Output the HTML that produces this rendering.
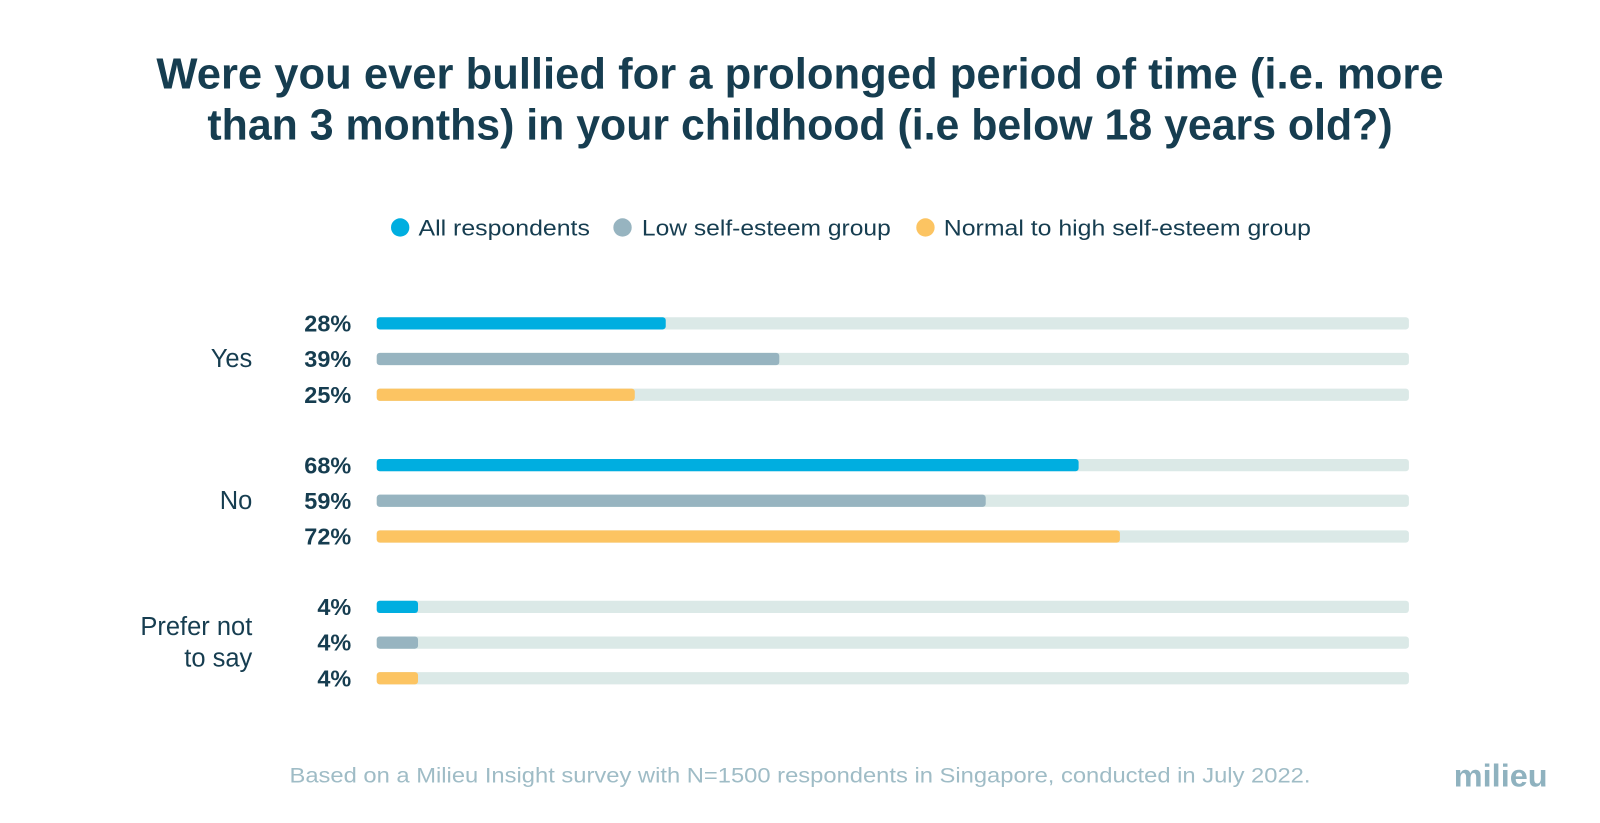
<!DOCTYPE html>
<html><head><meta charset="utf-8">
<style>
body{margin:0;background:#fff;width:1600px;height:818px;overflow:hidden;font-family:"Liberation Sans",sans-serif;}
svg text{font-family:"Liberation Sans",sans-serif;}
</style></head>
<body>
<svg id="chart" width="1600" height="818" viewBox="0 0 1568 802" xmlns="http://www.w3.org/2000/svg">
<text x="784" y="87" text-anchor="middle" font-size="43" font-weight="bold" fill="#163d50" textLength="1262" lengthAdjust="spacingAndGlyphs">Were you ever bullied for a prolonged period of time (i.e. more</text>
<text x="784" y="137" text-anchor="middle" font-size="43" font-weight="bold" fill="#163d50" textLength="1162" lengthAdjust="spacingAndGlyphs">than 3 months) in your childhood (i.e below 18 years old?)</text>
<g>
<g><circle cx="392" cy="223" r="9" fill="#00aee0"/><text x="410" y="231" font-size="22" fill="#163d50" textLength="168" lengthAdjust="spacingAndGlyphs">All respondents</text></g>
<g><circle cx="610" cy="223" r="9" fill="#97b4c0"/><text x="629" y="231" font-size="22" fill="#163d50" textLength="244" lengthAdjust="spacingAndGlyphs">Low self-esteem group</text></g>
<g><circle cx="907" cy="223" r="9" fill="#fcc462"/><text x="925" y="231" font-size="22" fill="#163d50" textLength="360" lengthAdjust="spacingAndGlyphs">Normal to high self-esteem group</text></g>
</g>
<g id="bars"></g>
<text x="784" y="767" text-anchor="middle" font-size="21" fill="#9fbcc6" textLength="1001" lengthAdjust="spacingAndGlyphs">Based on a Milieu Insight survey with N=1500 respondents in Singapore, conducted in July 2022.</text>
<text x="1471" y="771" text-anchor="middle" font-size="31" font-weight="bold" fill="#8fb2bf" textLength="92" lengthAdjust="spacingAndGlyphs">milieu</text>
</svg>
<script>
const categories = ["Yes", "No", "Prefer not to say"];
const allRespondents = [28, 68, 4];
const lowSelfEsteem = [39, 59, 4];
const normalHighSelfEsteem = [25, 72, 4];
const seriesNames = ["all", "low", "normal"];

const colors = ["#00aee0", "#97b4c0", "#fcc462"];
const series = [allRespondents, lowSelfEsteem, normalHighSelfEsteem];
const x0 = 369, x1 = 1381;
const xScale = v => x0 + (x1 - x0) * v / 100;
const groupY = i => 317 + i * 139;
const rowY = (i, s) => groupY(i) + s * 35;
const ns = "http://www.w3.org/2000/svg";
const g = document.getElementById("bars");
function mk(tag, attrs) { const e = document.createElementNS(ns, tag); for (const k in attrs) e.setAttribute(k, attrs[k]); g.appendChild(e); return e; }
categories.forEach((c, i) => {
  const lines = c === "Prefer not to say" ? ["Prefer not", "to say"] : [c];
  lines.forEach((ln, j) => {
    const t = mk("text", {x: 247, y: groupY(i) + 35 + 8 + (j - (lines.length - 1) / 2) * 31, "text-anchor": "end", "font-size": 25, fill: "#163d50"});
    
    
    t.textContent = ln;
  });
  series.forEach((arr, s) => {
    const y = rowY(i, s);
    const tr = mk("rect", {x: x0, y: y - 6, width: x1 - x0, height: 12, rx: 3, fill: "#dbe9e7"});
    
    
    const b = mk("rect", {x: x0, y: y - 6, width: xScale(arr[i]) - x0, height: 12, rx: 3, fill: colors[s]});
    
    
    const t = mk("text", {x: 344, y: y + 8, "text-anchor": "end", "font-size": 23, "font-weight": "bold", fill: "#163d50"});
    
    
    t.textContent = arr[i] + "%";
  });
});
</script>
</body></html>
